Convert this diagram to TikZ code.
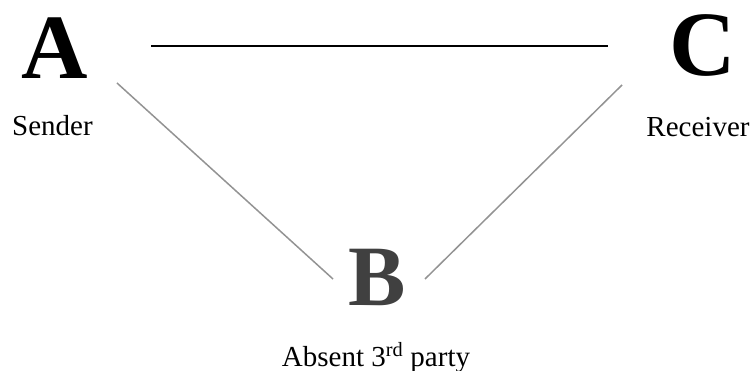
\documentclass[tikz,border=0pt]{standalone}
\usepackage{fontspec}
\setmainfont{Liberation Serif}
\begin{document}
\begin{tikzpicture}[x=1pt,y=-1pt,
  big/.style={font=\fontsize{92}{92}\selectfont\bfseries, inner sep=0pt, anchor=base},
  lbl/.style={font=\fontsize{29}{29}\selectfont, inner sep=0pt, anchor=base},
  mainline/.style={line width=1.8pt, black},
  sideline/.style={line width=1.5pt, color=gray!85}]
\useasboundingbox (0,0) rectangle (754,371);
\node[big] (A) at (54.5,79) {A};
\node[big] (C) at (703,76) {C};
\node[big, font=\fontsize{86}{86}\selectfont\bfseries, text={black!75}] (B) at (377.5,305) {B};
\node[lbl] (sender) at (52.5,136) {Sender};
\node[lbl] (receiver) at (698,137) {Receiver};
\node[lbl] (absent) at (376,366) {Absent 3\textsuperscript{rd} party};
\coordinate (ac1) at (151,45.7);
\coordinate (ac2) at (608,45.7);
\coordinate (ab1) at (117,83);
\coordinate (ab2) at (333,279);
\coordinate (cb1) at (622,85);
\coordinate (cb2) at (425,279);
\draw[mainline] (ac1) -- (ac2);
\draw[sideline] (ab1) -- (ab2);
\draw[sideline] (cb1) -- (cb2);
\end{tikzpicture}
\end{document}
